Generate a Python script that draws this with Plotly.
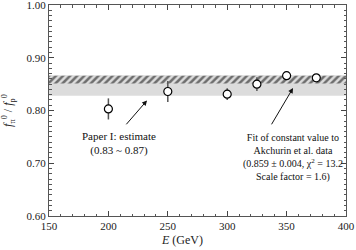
import plotly.graph_objects as go

energy = [200, 250, 300, 325, 350, 375]
ratio = [0.803, 0.836, 0.831, 0.850, 0.866, 0.862]
ratio_err = [0.020, 0.020, 0.011, 0.013, 0.007, 0.006]

band_estimate = [0.828, 0.867]   # Paper I estimate (0.83 ~ 0.87)
band_fit = [0.851, 0.866]        # fit 0.859 +/- 0.004 (scaled)
x_range = [150, 400]
y_range = [0.60, 1.00]

FONT = "Liberation Serif"

fig = go.Figure()

# gray band
fig.add_shape(type="rect", xref="x", yref="y",
              x0=x_range[0], x1=x_range[1], y0=band_estimate[0], y1=band_estimate[1],
              fillcolor="#dcdcdc", line_width=0, layer="below")

# hatched band
fig.add_trace(go.Scatter(
    x=[x_range[0], x_range[1], x_range[1], x_range[0], x_range[0]],
    y=[band_fit[0], band_fit[0], band_fit[1], band_fit[1], band_fit[0]],
    mode="lines", line=dict(width=0), fill="toself",
    fillcolor="rgba(0,0,0,0)",
    fillpattern=dict(shape="/", fgcolor="#000", bgcolor="rgba(0,0,0,0)",
                     size=5, solidity=0.5),
    hoverinfo="skip", showlegend=False))

fig.add_trace(go.Scatter(
    x=energy, y=ratio, mode="markers",
    marker=dict(symbol="circle", size=8, color="white",
                line=dict(color="black", width=1.2)),
    error_y=dict(type="data", array=ratio_err, color="#555", thickness=1.5, width=0),
    showlegend=False))

fig.update_xaxes(range=x_range, dtick=50, ticks="inside", ticklen=5,
                 showline=True, linecolor="#555", linewidth=1, mirror="ticks",
                 showgrid=False, zeroline=False, automargin=False,
                 ticklabeloverflow="allow",
                 tickfont=dict(family=FONT, size=11, color="#222"),
                 minor=dict(dtick=10, ticks="inside", ticklen=2.5, tickcolor="#555"))
fig.update_yaxes(range=y_range, dtick=0.1, tickformat=".2f", ticks="inside", ticklen=5,
                 showline=True, linecolor="#555", linewidth=1, mirror="ticks",
                 showgrid=False, zeroline=False, automargin=False,
                 ticklabeloverflow="allow",
                 tickfont=dict(family=FONT, size=11, color="#222"),
                 minor=dict(dtick=0.01, ticks="inside", ticklen=2.5, tickcolor="#555"),
                 title=dict(text="<i>f</i><sub>π</sub><sup>0</sup> / <i>f</i><sub>p</sub><sup>0</sup>",
                            font=dict(family=FONT, size=12, color="#222"), standoff=12))

fig.add_annotation(x=232.5, y=0.819, ax=214, ay=0.771, xref="x", yref="y",
                   axref="x", ayref="y", showarrow=True, arrowhead=2,
                   arrowsize=1, arrowwidth=1, arrowcolor="#111", text="")
fig.add_annotation(x=355.4, y=0.8425, ax=336.6, ay=0.771, xref="x", yref="y",
                   axref="x", ayref="y", showarrow=True, arrowhead=2,
                   arrowsize=1, arrowwidth=1, arrowcolor="#111", text="")
fig.add_annotation(x=208.7, y=0.737, xref="x", yref="y", showarrow=False,
                   text="Paper I: estimate<br>(0.83 ~ 0.87)",
                   font=dict(family=FONT, size=11, color="#111"),
                   align="center", yanchor="middle")
fig.add_annotation(x=355, y=0.7114, xref="x", yref="y", showarrow=False,
                   text="Fit of constant value to<br>Akchurin et al. data<br>"
                        "(0.859 ± 0.004, χ<sup>2</sup> = 13.2<br>Scale factor = 1.6)",
                   font=dict(family=FONT, size=10, color="#111"),
                   align="center", yanchor="middle")
fig.add_annotation(x=262, y=-0.114, xref="x", yref="paper", showarrow=False,
                   yanchor="middle", xanchor="center",
                   text="<i>E</i> (GeV)", font=dict(family=FONT, size=12, color="#222"))

fig.update_layout(width=356, height=250, margin=dict(l=49, r=10, t=5, b=34),
                  plot_bgcolor="white", paper_bgcolor="white", showlegend=False)

fig.write_html("out.html", config={"displayModeBar": False},
               post_script="document.body.style.margin='0';document.body.style.padding='0';")
